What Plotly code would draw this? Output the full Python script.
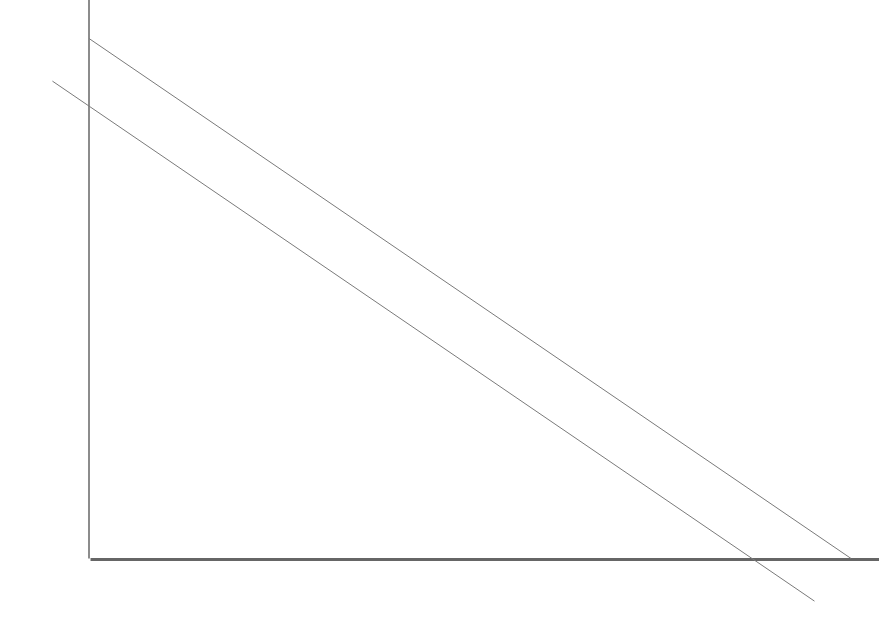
import plotly.graph_objects as go

# two parallel straight lines (x, y end points in chart units)
line_a_x = [0.0, 10.0]
line_a_y = [10.0, 0.0]
line_b_x = [-0.48, 9.52]
line_b_y = [9.18, -0.82]

fig = go.Figure()

for xs, ys in [(line_a_x, line_a_y), (line_b_x, line_b_y)]:
    fig.add_trace(go.Scatter(
        x=xs, y=ys, mode="lines",
        line=dict(color="#7a7a7a", width=1),
        hoverinfo="skip", showlegend=False,
    ))

# axes drawn by hand: thin vertical, thick horizontal
fig.add_shape(type="line", xref="x", yref="y",
              x0=0, x1=0, y0=0.0, y1=11,
              line=dict(color="#666666", width=1.5), layer="below")
fig.add_shape(type="line", xref="x", yref="y",
              x0=0.02, x1=10.5, y0=-0.02, y1=-0.02,
              line=dict(color="#666666", width=2.8), layer="below")

fig.update_layout(
    width=879, height=620,
    margin=dict(l=0, r=0, t=0, b=0),
    paper_bgcolor="white", plot_bgcolor="white",
    xaxis=dict(range=[-1.168, 10.367], visible=False, fixedrange=True),
    yaxis=dict(range=[-1.183, 10.74], visible=False, fixedrange=True),
    showlegend=False,
)

# drop the default page margin so the figure sits at the window corner
fig.write_html("out.html", config={"displayModeBar": False},
               post_script="document.body.style.margin='0';")
